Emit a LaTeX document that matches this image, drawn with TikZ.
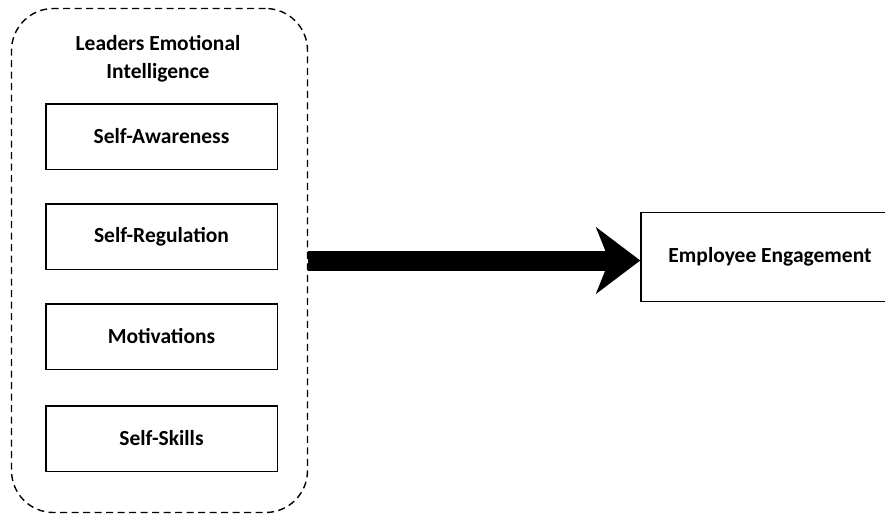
\documentclass[tikz,border=0pt]{standalone}
\usepackage{fontspec}
\setmainfont{Carlito}
\usetikzlibrary{arrows.meta,positioning}

\begin{document}
\begin{tikzpicture}[
    x=1pt, y=-1pt,
    font=\fontsize{21.5}{28}\selectfont\bfseries,
    group/.style={draw, dashed, dash pattern=on 7pt off 4.5pt, line width=1.4pt, rounded corners=42pt, minimum width=296pt, minimum height=504pt},
    dim/.style={draw, line width=1.5pt, minimum width=231.5pt, minimum height=65.5pt},
    bigarr/.style={-{Stealth[length=44pt, width=66pt, inset=13pt]}, line width=20pt},
  ]
  \useasboundingbox (0,0) rectangle (885,517);

  \node[group] (lei) at (159.5,260.5) {};
  \node[align=center] (title) at (158,59) {Leaders Emotional\\Intelligence};

  \node[dim] (aware) at (161.5,136.5) {Self-Awareness};
  \node[dim, below=33pt of aware] (regul) {Self-Regulation};
  \node[dim, below=33pt of regul] (motiv) {Motivations};
  \node[dim, below=35pt of motiv] (skills) {Self-Skills};

  \node[draw, line width=1.5pt, minimum width=258pt, minimum height=89pt] (engage) at (770,257) {Employee Engagement};

  \draw[bigarr] (lei.east) -- (lei.east -| engage.west);
\end{tikzpicture}
\end{document}
